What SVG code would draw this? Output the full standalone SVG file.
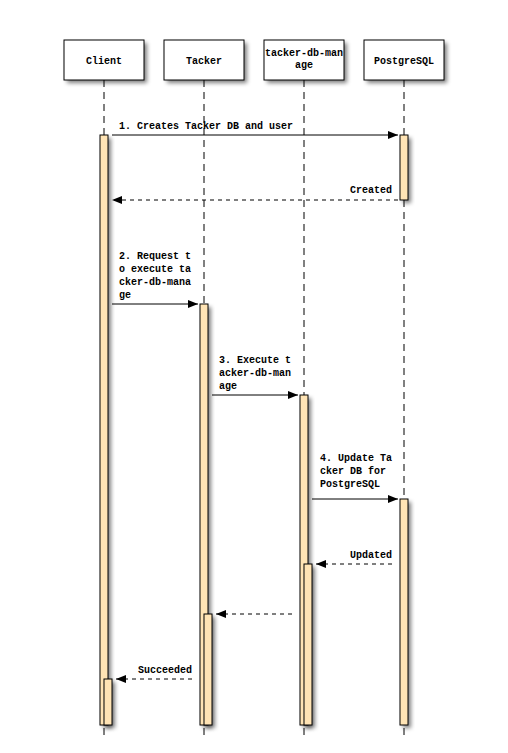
<svg xmlns="http://www.w3.org/2000/svg" width="508" height="753" viewBox="0 0 508 753">
<defs>
<filter id="sh" x="-50%" y="-50%" width="200%" height="200%"><feGaussianBlur stdDeviation="2"/></filter>
<marker id="ah" markerWidth="10" markerHeight="8" refX="10" refY="4" orient="auto" markerUnits="userSpaceOnUse"><path d="M0,0 L10,4 L0,8 Z" fill="#000"/></marker>
</defs>
<style>
text{font-family:"Liberation Mono","DejaVu Sans Mono",monospace;font-size:10px;font-weight:bold;fill:#000}
.box{fill:#fff;stroke:#000;stroke-width:1}
.shd{fill:#000;opacity:0.5;filter:url(#sh)}
.life{stroke:#000;stroke-width:1;stroke-dasharray:7 5;fill:none}
.act{fill:#ffe4b5;stroke:#000;stroke-width:1}
.msg{stroke:#000;stroke-width:1;fill:none;marker-end:url(#ah)}
.ret{stroke:#000;stroke-width:1;fill:none;stroke-dasharray:4 4;marker-end:url(#ah)}
.c{text-anchor:middle}
.r{text-anchor:end}
</style>
<g id="lifelines">
<line class="life" x1="104" y1="80" x2="104" y2="736"/>
<line class="life" x1="204" y1="80" x2="204" y2="736"/>
<line class="life" x1="304" y1="80" x2="304" y2="736"/>
<line class="life" x1="404" y1="80" x2="404" y2="736"/>
</g>
<g id="Client"><rect class="shd" x="67" y="43" width="80" height="40"/><rect class="box" x="64" y="40" width="80" height="40"/><text class="c" x="104" y="64">Client</text></g>
<g id="Tacker"><rect class="shd" x="167" y="43" width="80" height="40"/><rect class="box" x="164" y="40" width="80" height="40"/><text class="c" x="204" y="64">Tacker</text></g>
<g id="tacker-db-manage"><rect class="shd" x="267" y="43" width="80" height="40"/><rect class="box" x="264" y="40" width="80" height="40"/><text class="c" x="304" y="56">tacker-db-man</text><text class="c" x="304" y="68">age</text></g>
<g id="PostgreSQL"><rect class="shd" x="367" y="43" width="80" height="40"/><rect class="box" x="364" y="40" width="80" height="40"/><text class="c" x="404" y="64">PostgreSQL</text></g>
<g id="activations">
<rect class="shd" x="103" y="138" width="8" height="590"/><rect class="act" x="100" y="135" width="8" height="590"/>
<rect class="shd" x="403" y="138" width="8" height="65"/><rect class="act" x="400" y="135" width="8" height="65"/>
<rect class="shd" x="203" y="307" width="8" height="421"/><rect class="act" x="200" y="304" width="8" height="421"/>
<rect class="shd" x="303" y="398" width="8" height="330"/><rect class="act" x="300" y="395" width="8" height="330"/>
<rect class="shd" x="403" y="502" width="8" height="226"/><rect class="act" x="400" y="499" width="8" height="226"/>
<rect class="shd" x="307" y="567" width="8" height="161"/><rect class="act" x="304" y="564" width="8" height="161"/>
<rect class="shd" x="207" y="617" width="8" height="111"/><rect class="act" x="204" y="614" width="8" height="111"/>
<rect class="shd" x="107" y="682" width="8" height="46"/><rect class="act" x="104" y="679" width="8" height="46"/>
</g>
<g id="connectors">
<line class="msg" x1="112" y1="135" x2="398" y2="135"/>
<text x="119" y="129">1. Creates Tacker DB and user</text>
<line class="ret" x1="398" y1="200" x2="112" y2="200"/>
<text class="r" x="392" y="193">Created</text>
<line class="msg" x1="112" y1="304" x2="198" y2="304"/>
<text x="119" y="259">2. Request t</text>
<text x="119" y="272">o execute ta</text>
<text x="119" y="285">cker-db-mana</text>
<text x="119" y="298">ge</text>
<line class="msg" x1="212" y1="395" x2="298" y2="395"/>
<text x="219" y="363">3. Execute t</text>
<text x="219" y="376">acker-db-man</text>
<text x="219" y="389">age</text>
<line class="msg" x1="312" y1="499" x2="398" y2="499"/>
<text x="320" y="461">4. Update Ta</text>
<text x="320" y="474">cker DB for</text>
<text x="320" y="487">PostgreSQL</text>
<line class="ret" x1="392" y1="564" x2="316" y2="564"/>
<text class="r" x="392" y="558">Updated</text>
<line class="ret" x1="292" y1="614" x2="216" y2="614"/>
<line class="ret" x1="192" y1="679" x2="116" y2="679"/>
<text class="r" x="192" y="673">Succeeded</text>
</g>
</svg>
